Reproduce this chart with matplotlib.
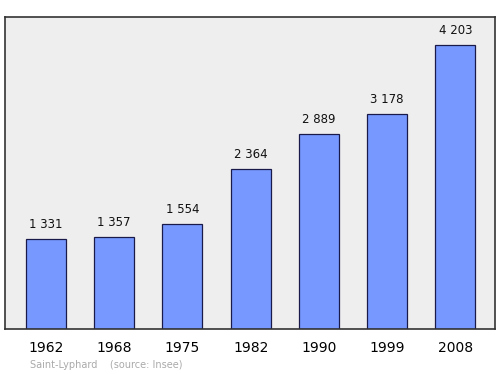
import matplotlib
matplotlib.use("Agg")
import matplotlib.pyplot as plt

years = ["1962", "1968", "1975", "1982", "1990", "1999", "2008"]
population = [1331, 1357, 1554, 2364, 2889, 3178, 4203]
value_labels = ["1 331", "1 357", "1 554", "2 364", "2 889", "3 178", "4 203"]


def main():
	fig = plt.figure(figsize=(5, 3.74), dpi=100)
	ax = fig.add_axes([5 / 500, 1 - 329 / 374, 490 / 500, 312 / 374])
	ax.set_facecolor("#eeeeee")

	x = list(range(len(years)))
	ax.bar(x, population, width=0.586, color="#7799ff", edgecolor="#1a1a4a", linewidth=0.9, zorder=2)
	for xi, v, lab in zip(x, population, value_labels):
		ax.text(xi, v + 120, lab, ha="center", va="bottom", fontsize=8.5, color="#111111")

	ax.set_xlim(-0.60, 6.58)
	ax.set_ylim(0, 4617)
	ax.set_yticks([])
	ax.set_xticks(x)
	ax.set_xticklabels(years, fontsize=10)
	ax.tick_params(axis="x", length=0, pad=9)
	for s in ax.spines.values():
		s.set_color("#333333")
		s.set_linewidth(1.2)

	fig.text(30 / 500, 1 - 365 / 374, "Saint-Lyphard    (source: Insee)", fontsize=7, color="#aaaaaa", va="center")
	fig.savefig("out.png", dpi=100)


if __name__ == "__main__":
	main()
